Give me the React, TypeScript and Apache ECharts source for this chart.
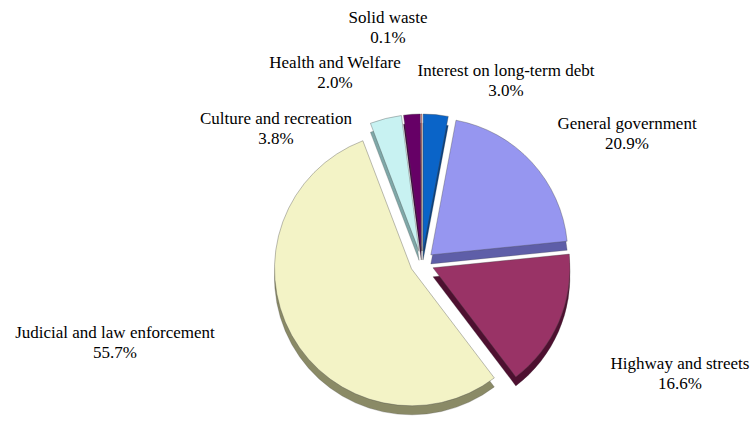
import React, { useEffect, useRef } from 'react';
import * as echarts from 'echarts';

const CATEGORIES = [
  'Interest on long-term debt',
  'General government',
  'Highway and streets',
  'Judicial and law enforcement',
  'Culture and recreation',
  'Health and Welfare',
  'Solid waste',
];
const VALUES = [3.0, 20.9, 16.6, 55.7, 3.8, 2.0, 0.1];

const COLORS = ['#0A64C8', '#9696F0', '#993366', '#F3F3C6', '#C8F2F2', '#660066', '#FF8080'];
const SIDE_COLORS = ['#073F80', '#5E5EA8', '#4E1030', '#8A8A66', '#7FA8A8', '#3A003A', '#A05050'];
const LABEL_POS: [number, number][] = [
  [506, 80],
  [627, 133],
  [680, 373],
  [115, 342],
  [276, 128],
  [335, 72],
  [388, 27],
];

const FONT = "17px 'Liberation Serif', 'Times New Roman', 'DejaVu Serif', serif";

export default function App() {
  const ref = useRef<HTMLDivElement>(null);
  useEffect(() => {
    if (!ref.current) return;
    const chart = echarts.init(ref.current, undefined, { renderer: 'svg' });
    const mk = (colors: string[]) =>
      CATEGORIES.map((name, i) => ({
        name,
        value: VALUES[i],
        selected: true,
        itemStyle: { color: colors[i] },
      }));
    const labels = CATEGORIES.map((name, i) => ({
      type: 'text',
      x: LABEL_POS[i][0],
      y: LABEL_POS[i][1],
      silent: true,
      style: {
        text: `${name}\n${VALUES[i].toFixed(1)}%`,
        fill: '#000000',
        font: FONT,
        lineHeight: 20,
        align: 'center',
        verticalAlign: 'middle',
      },
    }));
    const base = {
      type: 'pie',
      radius: 137,
      startAngle: 90,
      clockwise: true,
      selectedMode: 'multiple',
      selectedOffset: 12,
      avoidLabelOverlap: false,
      label: { show: false },
      labelLine: { show: false },
      emphasis: { disabled: true },
    };
    chart.setOption({
      animation: false,
      backgroundColor: '#ffffff',
      graphic: labels,
      series: [
        {
          ...base,
          silent: true,
          z: 1,
          center: [422, 272],
          itemStyle: { borderColor: 'rgba(70,70,70,0.5)', borderWidth: 0.5 },
          data: mk(SIDE_COLORS),
        },
        {
          ...base,
          z: 2,
          center: [422, 263],
          itemStyle: { borderColor: 'rgba(70,70,70,0.6)', borderWidth: 0.6 },
          data: mk(COLORS),
        },
      ],
    });
    return () => chart.dispose();
  }, []);
  return (
    <div
      ref={ref}
      style={{ position: 'absolute', left: 0, top: 0, width: 755, height: 429 }}
    />
  );
}
